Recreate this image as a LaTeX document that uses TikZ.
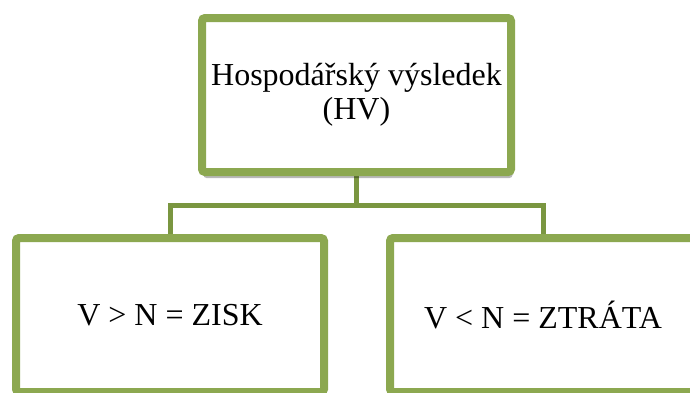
\documentclass[tikz,border=0pt]{standalone}
\usepackage{fontspec}
\setmainfont{Liberation Serif}
\usetikzlibrary{shadows,backgrounds}
\definecolor{boxgreen}{RGB}{140,168,80}
\definecolor{linegreen}{RGB}{122,150,64}
\tikzset{
  orgbox/.style={draw=boxgreen, line width=8pt, fill=white, rounded corners=3pt,
    minimum height=154pt, inner sep=0pt, align=center,
    font=\fontsize{32}{36}\selectfont,
    drop shadow={shadow xshift=1.5pt, shadow yshift=-6pt, opacity=0.28, fill=black}},
  conn/.style={draw=linegreen, line width=5pt}
}
\begin{document}
\begin{tikzpicture}[x=1pt, y=-1pt]
\useasboundingbox (0,0) rectangle (690,392);
\clip (0,0) rectangle (690,392);
\node[orgbox, minimum width=309pt] (top) at (356.5,95) {Hospodářský výsledek\\[-2pt](HV)};
\node[orgbox, minimum width=308pt] (left) at (170,315) {V > N = ZISK};
\node[orgbox, minimum width=306pt] (right) at (543,315) {V < N = ZTRÁTA};
\coordinate (bar) at (top.south |- 0,205.5);
\begin{scope}[on background layer]
\draw[conn] (top.south) -- (bar);
\draw[conn] (left.north) |- (bar) -| (right.north);
\end{scope}
\end{tikzpicture}
\end{document}
